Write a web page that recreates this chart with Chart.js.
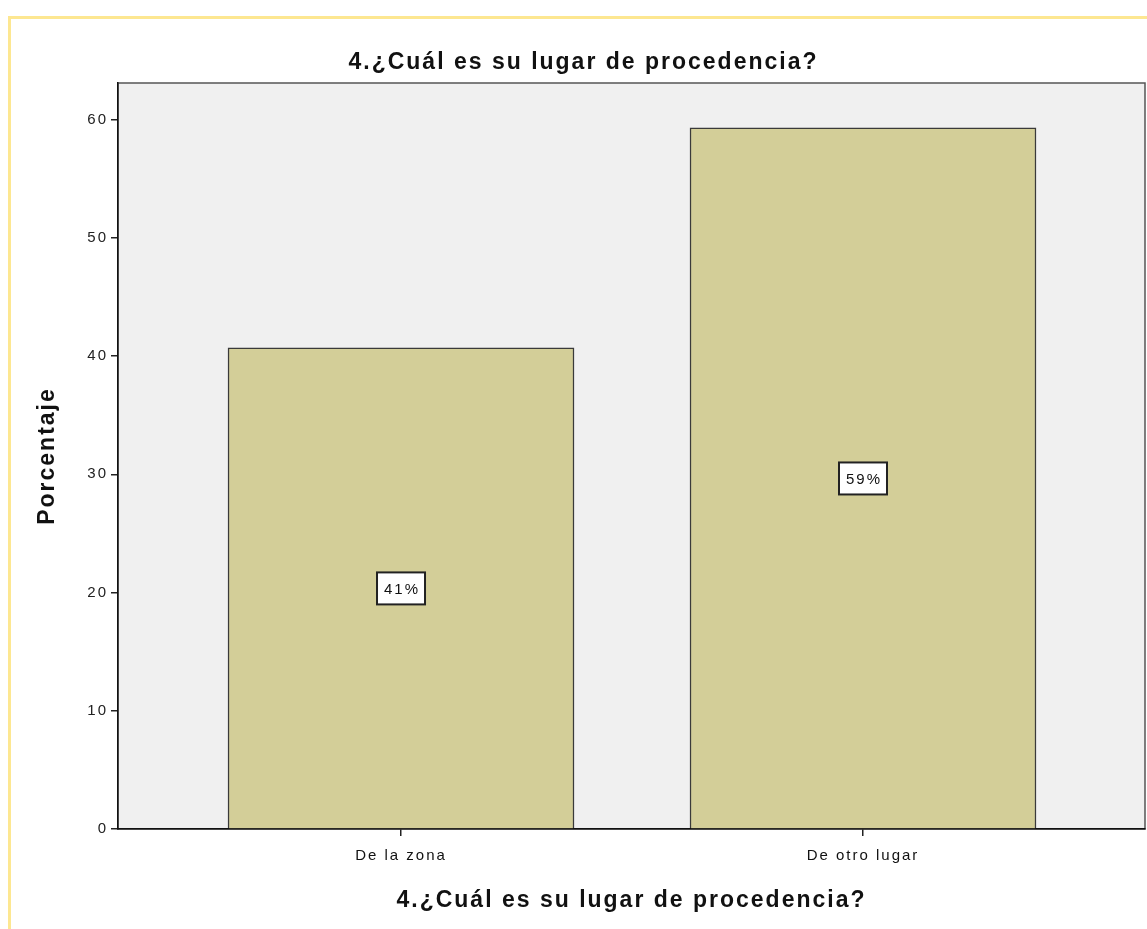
<!DOCTYPE html>
<html>
<head>
<meta charset="utf-8">
<script src="https://cdn.jsdelivr.net/npm/chart.js@4"></script>
<style>
  html, body { margin: 0; padding: 0; background: #ffffff; }
  #wrap { position: relative; width: 1147px; height: 929px; overflow: hidden; }
  #frame { position: absolute; left: 8px; top: 16px; width: 1200px; height: 1000px;
           border-top: 3px solid #fde791; border-left: 3px solid #fde791; }
  #chart { position: absolute; left: 0; top: 0; }
</style>
</head>
<body>
<div id="wrap">
  <div id="frame"></div>
  <canvas id="chart" width="1147" height="929"></canvas>
</div>
<script>
// datos
var categorias = ['De la zona', 'De otro lugar'];
var porcentajes = [40.7, 59.3];
var ticksY = [0, 10, 20, 30, 40, 50, 60];
var titulo = '4.¿Cuál es su lugar de procedencia?';

var fuente = '"Liberation Sans", Arial, sans-serif';

document.addEventListener('DOMContentLoaded', function() {
  initializeChart();
});

// fondo gris, borde del área y texto algo más espaciado (como en SPSS)
var fondoPlugin = {
  id: 'fondo',
  beforeDraw: function(chart) {
    var a = chart.chartArea;
    var ctx = chart.ctx;
    ctx.save();
    ctx.fillStyle = '#f0f0f0';
    ctx.fillRect(a.left, a.top, a.right - a.left, a.bottom - a.top);
    ctx.strokeStyle = '#555555';
    ctx.lineWidth = 1.5;
    ctx.strokeRect(a.left, a.top, a.right - a.left, a.bottom - a.top);
    ctx.restore();
    ctx.letterSpacing = '2px';
  },
  afterDraw: function(chart) {
    chart.ctx.letterSpacing = '0px';
  }
};

// etiquetas "41%" en caja blanca en el centro de cada barra
var etiquetasPlugin = {
  id: 'etiquetas',
  afterDatasetsDraw: function(chart) {
    var ctx = chart.ctx;
    var meta = chart.getDatasetMeta(0);
    var yScale = chart.scales.y;
    ctx.save();
    ctx.font = '15px ' + fuente;
    ctx.textAlign = 'center';
    ctx.textBaseline = 'middle';
    meta.data.forEach(function(bar, i) {
      var v = porcentajes[i];
      var texto = Math.round(v) + '%';
      var cy = yScale.getPixelForValue(v / 2);
      var w = 48, h = 32;
      ctx.fillStyle = '#ffffff';
      ctx.fillRect(bar.x - w / 2, cy - h / 2, w, h);
      ctx.strokeStyle = '#222222';
      ctx.lineWidth = 2;
      ctx.strokeRect(bar.x - w / 2, cy - h / 2, w, h);
      ctx.fillStyle = '#111111';
      ctx.fillText(texto, bar.x + 1, cy + 1);
    });
    ctx.restore();
  }
};

function initializeChart() {
  var ctx = document.getElementById('chart').getContext('2d');
  var puntos = porcentajes.map(function(v, i) { return { x: i, y: v }; });

  new Chart(ctx, {
    type: 'bar',
    data: {
      datasets: [{
        data: puntos,
        backgroundColor: '#d3ce98',
        borderColor: '#3a3a3a',
        borderWidth: 1.5,
        barThickness: 346
      }]
    },
    plugins: [fondoPlugin, etiquetasPlugin],
    options: {
      responsive: false,
      animation: false,
      layout: { padding: { left: 22, right: 2, top: 0, bottom: 0 } },
      plugins: {
        legend: { display: false },
        tooltip: { enabled: false },
        title: {
          display: true,
          text: titulo,
          color: '#111111',
          font: { family: fuente, size: 23, weight: 'bold' },
          padding: { top: 49, bottom: 6.4 }
        }
      },
      scales: {
        x: {
          type: 'linear',
          offset: false,
          min: -0.6126,
          max: 1.6104,
          afterBuildTicks: function(scale) {
            scale.ticks = categorias.map(function(c, i) { return { value: i }; });
          },
          afterFit: function(scale) { scale.height = 100; },
          ticks: {
            callback: function(value) { return categorias[value]; },
            color: '#111111',
            font: { family: fuente, size: 15 },
            padding: 11,
            maxRotation: 0
          },
          grid: { offset: false, drawOnChartArea: false, drawTicks: true, tickLength: 7, color: '#222222', lineWidth: 1.5 },
          border: { color: '#111111', width: 1.5 },
          title: {
            display: true,
            text: titulo,
            color: '#111111',
            font: { family: fuente, size: 23, weight: 'bold' },
            padding: { bottom: 15 }
          }
        },
        y: {
          min: 0,
          max: 63.1,
          afterBuildTicks: function(scale) {
            scale.ticks = ticksY.map(function(v) { return { value: v }; });
          },
          afterFit: function(scale) { scale.width = 96; },
          ticks: {
            color: '#222222',
            font: { family: fuente, size: 15 },
            padding: 3
          },
          grid: { drawOnChartArea: false, drawTicks: true, tickLength: 7, color: '#222222', lineWidth: 1.5 },
          border: { color: '#111111', width: 1.5 },
          title: {
            display: true,
            text: 'Porcentaje',
            color: '#111111',
            font: { family: fuente, size: 23, weight: 'bold' },
            padding: { top: 12 }
          }
        }
      }
    }
  });
}
</script>
</body>
</html>
